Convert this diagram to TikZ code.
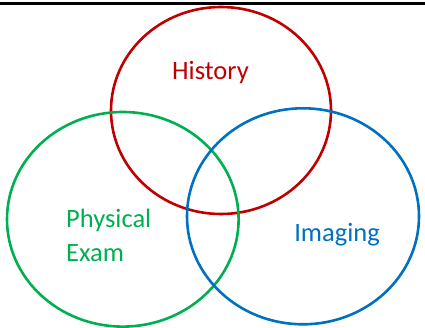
\documentclass[tikz,border=0pt]{standalone}
\usepackage{fontspec}
\setmainfont{Carlito}
\definecolor{hred}{HTML}{C00000}
\definecolor{pgreen}{HTML}{00B050}
\definecolor{iblue}{HTML}{0070C0}
\begin{document}
\begin{tikzpicture}[x=1pt,y=-1pt,
  ring/.style={line width=2.6pt},
  lbl/.style={font=\fontsize{26.5}{32.5}\selectfont, inner sep=0pt}]
\useasboundingbox (0,0) rectangle (425,328);
\coordinate (tl) at (0,3.5);
\coordinate (tr) at (425,3.5);
\draw[line width=2.2pt, black] (tl) -- (tr);
\draw[ring, hred] (221,110.5) ellipse [x radius=110, y radius=103.5];
\draw[ring, pgreen] (122.8,219.3) ellipse [x radius=115.8, y radius=107.3];
\draw[ring, iblue] (303,216.3) ellipse [x radius=116, y radius=108];
\node[lbl, text=hred, anchor=base] (hist) at (210.5,80) {History};
\node[lbl, text=pgreen, anchor=base west, align=left] (phys) at (66,228) {Physical};
\node[lbl, text=pgreen, anchor=base west, align=left] (exam) at (66,261.5) {Exam};
\node[lbl, text=iblue, anchor=base] (img) at (337,241.5) {Imaging};
\end{tikzpicture}
\end{document}
